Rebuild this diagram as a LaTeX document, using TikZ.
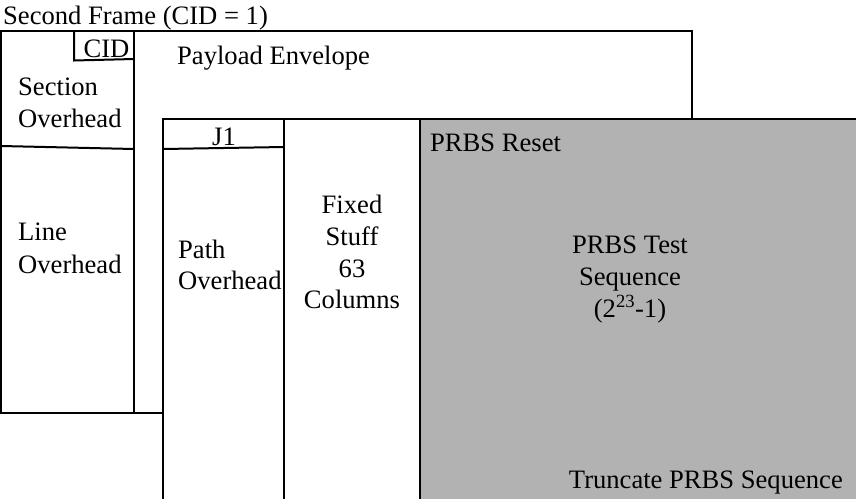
\documentclass[tikz,border=0pt]{standalone}
\usepackage{fontspec}
\setmainfont{Liberation Serif}
\definecolor{prbsgray}{RGB}{178,178,178}
\tikzset{
  frameline/.style={line width=2pt},
  lbl/.style={inner sep=0pt, anchor=base west, font=\fontsize{26.6}{32}\selectfont},
  clbl/.style={lbl, anchor=base},
  rlbl/.style={lbl, anchor=base east}
}
\begin{document}
\begin{tikzpicture}[x=1pt, y=-1pt]
  \useasboundingbox (0,0) rectangle (856,498);
  \clip (0,0) rectangle (856,498);

  % second frame (back)
  \draw[frameline, fill=white] (1,31) rectangle (692,413);
  \draw[frameline] (134,31) -- (134,413);
  \draw[frameline] (74,31) -- (74,60.5) -- (134,59);
  \draw[frameline] (1,146) -- (134,149);

  % payload envelope (front)
  \fill[white] (163,119) rectangle (870,510);
  \fill[prbsgray] (420,119) rectangle (870,510);
  \draw[frameline] (163,510) -- (163,119) -- (870,119);
  \draw[frameline] (284,119) -- (284,510);
  \draw[frameline] (420,119) -- (420,510);
  \draw[frameline] (163,149) -- (284,147);

  % labels
  \node[lbl] (title) at (3,24) {Second Frame (CID = 1)};
  \node[clbl] (cid) at (106.5,57) {CID};
  \node[lbl] (payload) at (177,64) {Payload Envelope};
  \node[lbl] (soh1) at (18,95) {Section};
  \node[lbl] (soh2) at (18,127) {Overhead};
  \node[lbl] (loh1) at (18,240) {Line};
  \node[lbl] (loh2) at (18,273) {Overhead};
  \node[clbl] (j1) at (224,145) {J1};
  \node[lbl] (poh1) at (178,258) {Path};
  \node[lbl] (poh2) at (178,289) {Overhead};
  \node[clbl] (fs1) at (352,213) {Fixed};
  \node[clbl] (fs2) at (352,245) {Stuff};
  \node[clbl] (fs3) at (352,277) {63};
  \node[clbl] (fs4) at (352,308) {Columns};
  \node[lbl] (reset) at (430,151) {PRBS Reset};
  \node[clbl] (seq1) at (630,253) {PRBS Test};
  \node[clbl] (seq2) at (630,285) {Sequence};
  \node[clbl] (seq3) at (630,317) {(2\textsuperscript{23}-1)};
  \node[rlbl] (trunc) at (843,488) {Truncate PRBS Sequence};
\end{tikzpicture}
\end{document}
